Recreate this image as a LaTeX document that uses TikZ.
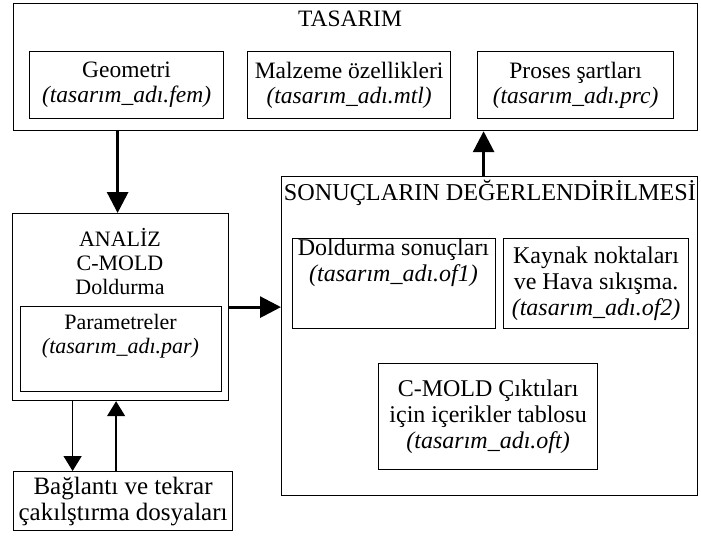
\documentclass[tikz,border=0pt]{standalone}
\usepackage{fontspec}
\setmainfont{Liberation Serif}
\usetikzlibrary{arrows.meta}
\begin{document}
\begin{tikzpicture}[x=1pt,y=-1pt,
  box/.style={draw, line width=1.2pt, inner sep=0pt, anchor=north west, align=center,
    font=\fontsize{23.5}{25}\selectfont},
  lbl/.style={inner sep=0pt, align=center, font=\fontsize{23.5}{25}\selectfont},
  rfont/.style={font=\fontsize{24}{26}\selectfont},
  lfont/.style={font=\fontsize{22}{24}\selectfont},
  bigarrow/.style={line width=3pt, -{Triangle[length=21pt,width=21pt]}},
  smallarrow/.style={line width=1.4pt, -{Triangle[length=15pt,width=18pt]}},
]
\useasboundingbox (0,0) rectangle (701,539);

% design block
\node[box, minimum width=684pt, minimum height=127pt] (tasarim) at (13,3) {};
\node[lbl, anchor=base] (tasarimT) at (350,26) {TASARIM};
\node[box, minimum width=194pt, minimum height=67pt] (geo) at (29,51)
  {Geometri\\\textit{(tasarım\_adı.fem)}};
\node[box, minimum width=203pt, minimum height=67pt] (malz) at (247,51)
  {Malzeme özellikleri\\\textit{(tasarım\_adı.mtl)}};
\node[box, minimum width=196pt, minimum height=67pt] (proses) at (477,51)
  {Proses şartları\\\textit{(tasarım\_adı.prc)}};

% analysis block
\node[box, minimum width=216pt, minimum height=187pt] (analiz) at (12,213) {};
\node[lbl, lfont] (analizT) at (120,262) {ANALİZ\\C-MOLD\\Doldurma};
\node[box, minimum width=201pt, minimum height=85pt] (param) at (20,306) {};
\node[lbl, lfont] (paramT) at (120.5,336) {Parametreler\\\textit{(tasarım\_adı.par)}};

% link / restart files
\node[box, minimum width=219pt, minimum height=59pt, font=\fontsize{25}{26}\selectfont] (bag) at (13,471)
  {Bağlantı ve tekrar\\çakılştırma dosyaları};

% evaluation block
\node[box, minimum width=416pt, minimum height=319pt] (sonuc) at (281,176) {};
\node[lbl, anchor=base, font=\fontsize{24.2}{26}\selectfont] (sonucT) at (490,200)
  {SONUÇLARIN DEĞERLENDİRİLMESİ};
\node[box, minimum width=203pt, minimum height=90pt] (dold) at (292,238) {};
\node[lbl, rfont] (doldT) at (393.5,263) {Doldurma sonuçları\\\textit{(tasarım\_adı.of1)}};
\node[box, rfont, minimum width=185pt, minimum height=90pt] (kaynak) at (503,238)
  {Kaynak noktaları\\ve Hava sıkışma.\\\textit{(tasarım\_adı.of2)}};
\node[box, rfont, minimum width=219pt, minimum height=106pt] (cikti) at (378,363)
  {C-MOLD Çıktıları\\için içerikler tablosu\\\textit{(tasarım\_adı.oft)}};

% connectors
\draw[bigarrow] ([xshift=-3pt]analiz.north |- tasarim.south) -- ([xshift=-3pt]analiz.north);
\draw[bigarrow] (analiz.east) -- (analiz.east -| sonuc.west);
\draw[bigarrow] ([xshift=-6pt]sonuc.north) -- ([xshift=-6pt]sonuc.north |- tasarim.south);
\draw[smallarrow] ([xshift=-48pt]analiz.south) -- ([xshift=-48pt]analiz.south |- bag.north);
\draw[smallarrow] ([xshift=-7pt]bag.north) -- ([xshift=-7pt]bag.north |- analiz.south);
\end{tikzpicture}
\end{document}
